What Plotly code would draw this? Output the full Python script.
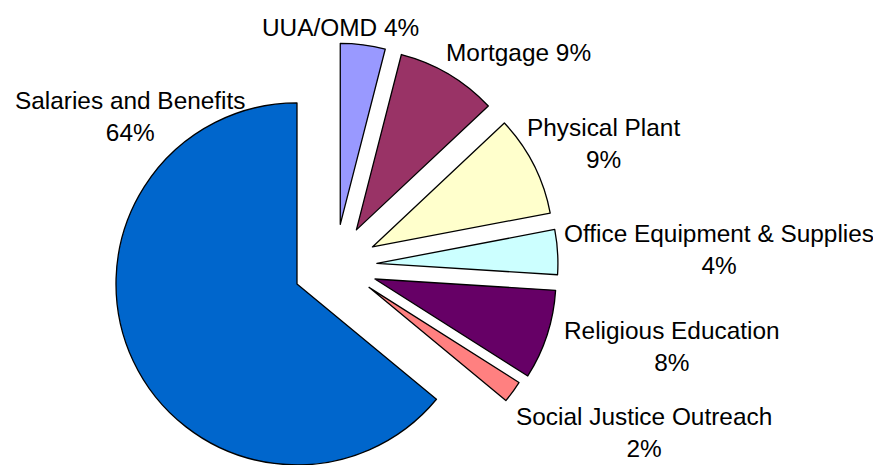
import math
import plotly.graph_objects as go

# ---- data ----
categories = ["UUA/OMD", "Mortgage", "Physical Plant", "Office Equipment & Supplies",
              "Religious Education", "Social Justice Outreach", "Salaries and Benefits"]
values = [4, 9, 9, 4, 8, 2, 64]
colors = ["#9999FF", "#993366", "#FFFFCC", "#CCFFFF", "#660066", "#FF8080", "#0066CC"]

# label layout (text lines, pixel centre of the label block in the window)
label_text = ["UUA/OMD 4%", "Mortgage 9%", "Physical Plant<br>9%",
              "Office Equipment & Supplies<br>4%", "Religious Education<br>8%",
              "Social Justice Outreach<br>2%", "Salaries and Benefits<br>64%"]
label_pos = [(340, 27), (518, 53), (603, 144), (719, 249), (672, 346), (644, 432), (130, 116)]

# ---- layout constants ----
PAGE = 8                  # default page margin of the html body
W, H = 881 - PAGE, 465 - PAGE
CX, CY = 335.0, 266.0     # centre of the unexploded pie (window px)
R = 181.0                 # radius (px)
EXPLODE = 42.0            # explosion distance (px)


def fx(px):
    return (px - PAGE) / W


def fy(py):
    return 1 - (py - PAGE) / H


fig = go.Figure()
total = float(sum(values))
cum = 0.0
for i, v in enumerate(values):
    a0 = cum / total * 360.0
    cum += v
    a1 = cum / total * 360.0
    mid = math.radians((a0 + a1) / 2.0)
    ax = CX + EXPLODE * math.sin(mid)
    ay = CY - EXPLODE * math.cos(mid)
    x0 = max(0.0, fx(ax - R))
    x1 = min(1.0, fx(ax + R))
    y0 = max(0.0, fy(ay + R))
    y1 = min(1.0, fy(ay - R))
    cols = ["rgba(0,0,0,0)"] * len(values)
    cols[i] = colors[i]
    lw = [0] * len(values)
    lw[i] = 1.3
    fig.add_trace(go.Pie(
        labels=categories, values=values, sort=False, direction="clockwise",
        rotation=0, textinfo="none", hoverinfo="skip", showlegend=False,
        marker=dict(colors=cols, line=dict(color="black", width=lw)),
        domain=dict(x=[x0, x1], y=[y0, y1]),
    ))

for txt, (px, py) in zip(label_text, label_pos):
    fig.add_annotation(text=txt, x=fx(px), y=fy(py), xref="paper", yref="paper",
                       showarrow=False, xanchor="center", yanchor="middle",
                       font=dict(family="Liberation Sans, Arial, sans-serif", size=24.4, color="black"))

fig.update_layout(width=W, height=H, margin=dict(l=0, r=0, t=0, b=0),
                  paper_bgcolor="white", plot_bgcolor="white")
fig.write_html("out.html")
